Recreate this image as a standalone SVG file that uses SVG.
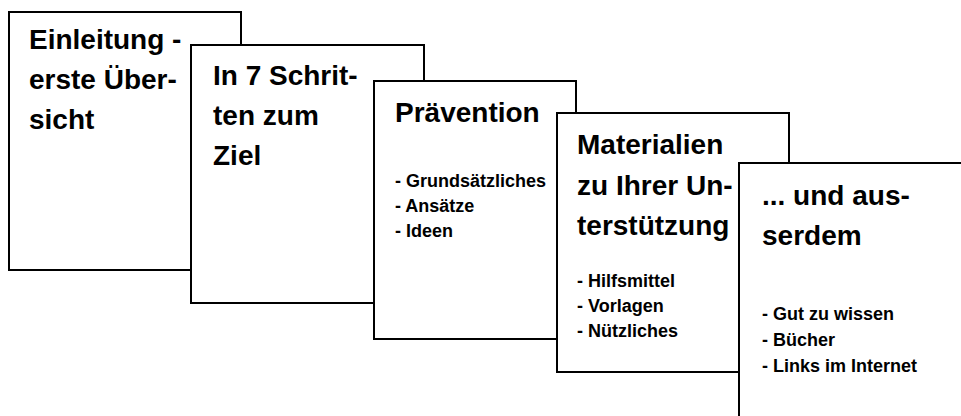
<svg xmlns="http://www.w3.org/2000/svg" width="961" height="416" viewBox="0 0 961 416">
<style>
.card{fill:#fff;stroke:#000;stroke-width:2}
.t{font-family:"Liberation Sans",Arial,sans-serif;font-weight:bold;font-size:28px;fill:#000}
.s{font-family:"Liberation Sans",Arial,sans-serif;font-weight:bold;font-size:18px;fill:#000}
</style>
<rect width="961" height="416" fill="#fff"/>
<g id="card1">
<rect class="card" x="9" y="12" width="232" height="258"/>
<text class="t" x="29" y="49">Einleitung -</text>
<text class="t" x="29" y="89">erste Über-</text>
<text class="t" x="29" y="129">sicht</text>
</g>
<g id="card2">
<rect class="card" x="191" y="45" width="233" height="258"/>
<text class="t" x="213" y="85">In 7 Schrit-</text>
<text class="t" x="213" y="125">ten zum</text>
<text class="t" x="213" y="165">Ziel</text>
</g>
<g id="card3">
<rect class="card" x="374" y="81" width="202" height="258"/>
<text class="t" x="395" y="122">Prävention</text>
<text class="s" x="395" y="187">- Grundsätzliches</text>
<text class="s" x="395" y="212">- Ansätze</text>
<text class="s" x="395" y="237">- Ideen</text>
</g>
<g id="card4">
<rect class="card" x="557" y="113" width="232" height="259"/>
<text class="t" x="577" y="154">Materialien</text>
<text class="t" x="577" y="195">zu Ihrer Un-</text>
<text class="t" x="577" y="235">terstützung</text>
<text class="s" x="577" y="287">- Hilfsmittel</text>
<text class="s" x="577" y="312">- Vorlagen</text>
<text class="s" x="577" y="337">- Nützliches</text>
</g>
<g id="card5">
<rect class="card" x="739" y="163" width="240" height="270"/>
<text class="t" x="762" y="205">... und aus-</text>
<text class="t" x="762" y="245">serdem</text>
<text class="s" x="762" y="320">- Gut zu wissen</text>
<text class="s" x="762" y="346">- Bücher</text>
<text class="s" x="762" y="372">- Links im Internet</text>
</g>
</svg>
